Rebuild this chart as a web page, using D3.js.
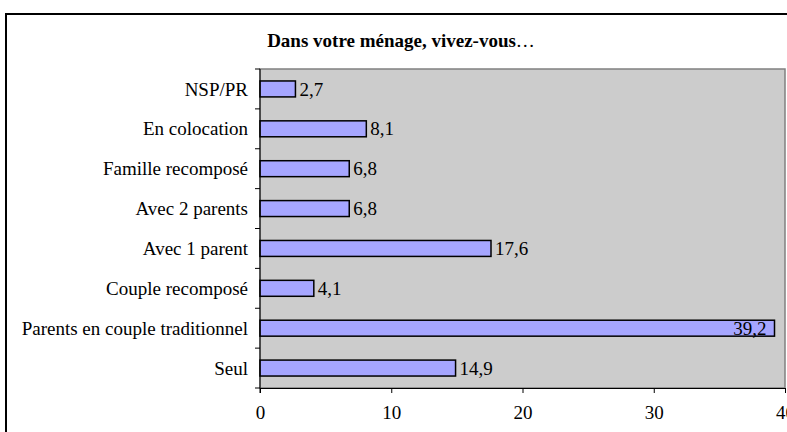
<!DOCTYPE html>
<html>
<head>
<meta charset="utf-8">
<script src="https://cdn.jsdelivr.net/npm/d3@7"></script>
<style>
  html, body { margin: 0; padding: 0; background: #fff; }
</style>
</head>
<body>
<div id="chart"></div>
<script>
// chart data
const categories = ["NSP/PR", "En colocation", "Famille recomposé", "Avec 2 parents",
  "Avec 1 parent", "Couple recomposé", "Parents en couple traditionnel", "Seul"];
const values = [2.7, 8.1, 6.8, 6.8, 17.6, 4.1, 39.2, 14.9];
const xTicks = [0, 10, 20, 30, 40];
const title = "Dans votre ménage, vivez-vous";

const width = 787;
const height = 432;
const plot = {left: 260, right: 785, top: 69, bottom: 388};
const serif = "'Liberation Serif', 'Times New Roman', serif";
const fontSize = 19;

const svg = d3.select("#chart")
  .append("svg")
  .attr("width", width)
  .attr("height", height);

// outer chart frame (runs off the right and bottom)
svg.append("rect")
  .attr("x", 6).attr("y", 14)
  .attr("width", 820).attr("height", 460)
  .attr("fill", "#fff")
  .attr("stroke", "#000")
  .attr("stroke-width", 2);

// title
const t = svg.append("text")
  .attr("x", 401).attr("y", 47)
  .attr("text-anchor", "middle")
  .style("font-family", serif)
  .style("font-size", "19px");
t.append("tspan").style("font-weight", "bold").text(title);
t.append("tspan").text("…");

const x = d3.scaleLinear()
  .domain([0, 40])
  .range([plot.left, plot.right]);

const y = d3.scaleBand()
  .domain(categories)
  .range([plot.top, plot.bottom])
  .paddingInner(0.6)
  .paddingOuter(0.3);

// plot area
svg.append("rect")
  .attr("x", plot.left).attr("y", plot.top)
  .attr("width", plot.right - plot.left)
  .attr("height", plot.bottom - plot.top)
  .attr("fill", "#cccccc")
  .attr("stroke", "#808080")
  .attr("stroke-width", 1.5);

// bars
svg.selectAll(".bar")
  .data(values)
  .enter()
  .append("rect")
  .attr("class", "bar")
  .attr("x", x(0))
  .attr("y", (d, i) => y(categories[i]))
  .attr("width", d => x(d) - x(0))
  .attr("height", y.bandwidth())
  .attr("fill", "#a6a6ff")
  .attr("stroke", "#000")
  .attr("stroke-width", 1.5);

// value labels (the long bar gets its label inside the end)
const fmt = v => String(v.toFixed(1)).replace(".", ",");
const inside = d => x(d) + 38 > plot.right;
svg.selectAll(".val")
  .data(values)
  .enter()
  .append("text")
  .attr("class", "val")
  .style("font-family", serif)
  .style("font-size", fontSize + "px")
  .attr("fill", "#000")
  .attr("y", (d, i) => y(categories[i]) + y.bandwidth() / 2)
  .attr("dy", "0.35em")
  .attr("x", d => inside(d) ? x(d) - 8 : x(d) + 4)
  .attr("text-anchor", d => inside(d) ? "end" : "start")
  .text(fmt);

// y axis (ticks at band boundaries)
const yAxisG = svg.append("g");
yAxisG.append("line")
  .attr("x1", plot.left).attr("x2", plot.left)
  .attr("y1", plot.top).attr("y2", plot.bottom + 5)
  .attr("stroke", "#000").attr("stroke-width", 1);
yAxisG.selectAll(".ytick")
  .data(d3.range(categories.length + 1))
  .enter()
  .append("line")
  .attr("x1", plot.left - 5).attr("x2", plot.left)
  .attr("y1", i => plot.top + i * (plot.bottom - plot.top) / categories.length)
  .attr("y2", i => plot.top + i * (plot.bottom - plot.top) / categories.length)
  .attr("stroke", "#000");
yAxisG.selectAll(".ylab")
  .data(categories)
  .enter()
  .append("text")
  .attr("x", plot.left - 12)
  .attr("y", d => y(d) + y.bandwidth() / 2)
  .attr("dy", "0.35em")
  .attr("text-anchor", "end")
  .style("font-family", serif)
  .style("font-size", fontSize + "px")
  .text(d => d);

// x axis
const xAxis = d3.axisBottom(x)
  .tickValues(xTicks)
  .tickSize(5)
  .tickPadding(13)
  .tickFormat(d3.format("d"));
const xg = svg.append("g")
  .attr("transform", `translate(0,${plot.bottom})`)
  .call(xAxis);
xg.select(".domain").attr("stroke", "#000");
xg.selectAll("text")
  .style("font-family", serif)
  .style("font-size", fontSize + "px")
  .attr("fill", "#000");
</script>
</body>
</html>
